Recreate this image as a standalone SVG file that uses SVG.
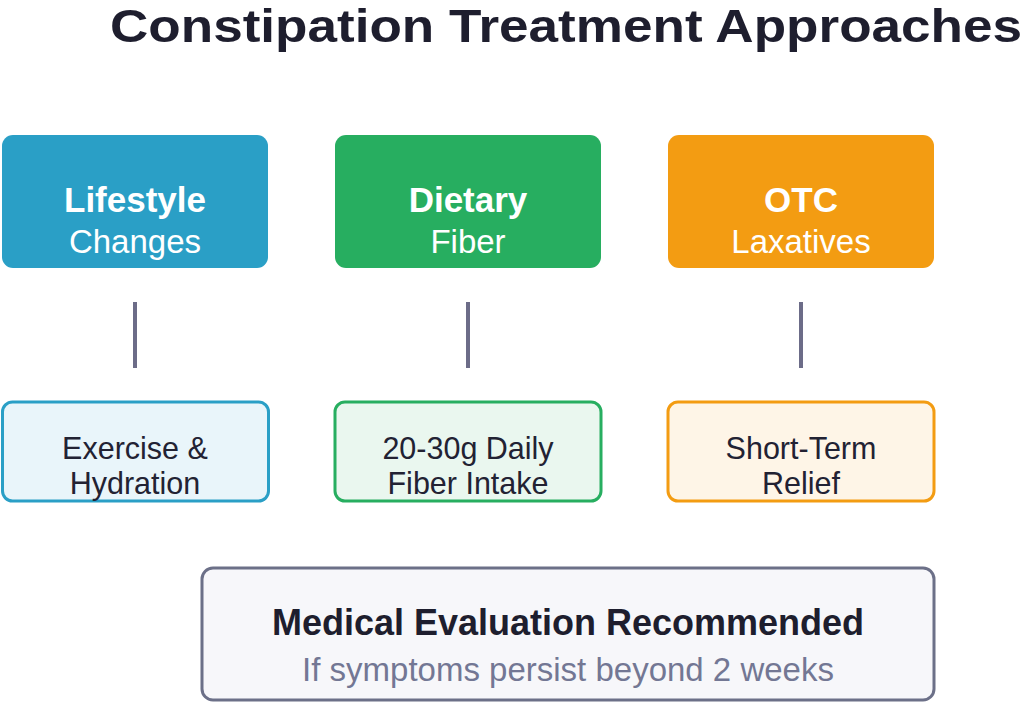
<svg xmlns="http://www.w3.org/2000/svg" width="1024" height="703" viewBox="0 0 1024 703">
<style>
text{font-family:"Liberation Sans",Arial,sans-serif;text-anchor:middle}
.title{font-size:47px;font-weight:bold;fill:#1e1e2e}
.h{font-size:35px;font-weight:bold;fill:#ffffff}
.s{font-size:33px;fill:#ffffff}
.d{font-size:30.5px;fill:#222233}
.mh{font-size:36px;font-weight:bold;fill:#1e1e2e}
.ms{font-size:33px;fill:#737794}
.conn line{stroke:#6c6c88;stroke-width:4}
</style>
<rect width="1024" height="703" fill="#ffffff"/>
<text class="title" x="566" y="42" textLength="912" lengthAdjust="spacingAndGlyphs">Constipation Treatment Approaches</text>
<g id="lifestyle">
<rect x="2" y="135" width="266" height="133" rx="11" fill="#2a9fc6"/>
<text class="h" x="135" y="212">Lifestyle</text>
<text class="s" x="135" y="253">Changes</text>
</g>
<g id="dietary">
<rect x="335" y="135" width="266" height="133" rx="11" fill="#27ae60"/>
<text class="h" x="468" y="212">Dietary</text>
<text class="s" x="468" y="253">Fiber</text>
</g>
<g id="otc">
<rect x="668" y="135" width="266" height="133" rx="11" fill="#f39c12"/>
<text class="h" x="801" y="212">OTC</text>
<text class="s" x="801" y="253">Laxatives</text>
</g>
<g class="conn" id="connectors">
<line x1="135" y1="302" x2="135" y2="368"/>
<line x1="468" y1="302" x2="468" y2="368"/>
<line x1="801" y1="302" x2="801" y2="368"/>
</g>
<g id="exercise">
<rect x="2.5" y="402" width="266" height="99" rx="10" fill="#e9f5fa" stroke="#2a9fc6" stroke-width="3"/>
<text class="d" x="135" y="459">Exercise &amp;</text>
<text class="d" x="135" y="494">Hydration</text>
</g>
<g id="fiber">
<rect x="335" y="402" width="266" height="99" rx="10" fill="#eaf7ef" stroke="#27ae60" stroke-width="3"/>
<text class="d" x="468" y="459">20-30g Daily</text>
<text class="d" x="468" y="494">Fiber Intake</text>
</g>
<g id="relief">
<rect x="668" y="402" width="266" height="99" rx="10" fill="#fef5e7" stroke="#f39c12" stroke-width="3"/>
<text class="d" x="801" y="459">Short-Term</text>
<text class="d" x="801" y="494">Relief</text>
</g>
<g id="medical">
<rect x="202" y="568" width="732" height="132" rx="11" fill="#f7f7fa" stroke="#6c7088" stroke-width="3"/>
<text class="mh" x="568" y="635">Medical Evaluation Recommended</text>
<text class="ms" x="568" y="681">If symptoms persist beyond 2 weeks</text>
</g>
</svg>
